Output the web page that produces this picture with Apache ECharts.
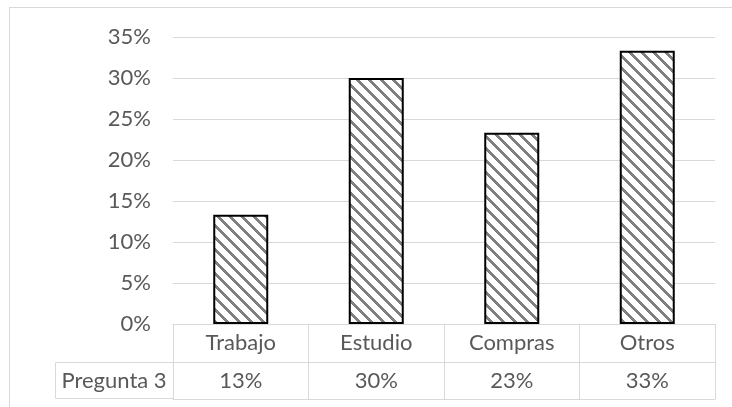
<!DOCTYPE html>
<html>
<head>
<meta charset="utf-8">
<script src="https://cdn.jsdelivr.net/npm/echarts@6/dist/echarts.min.js"></script>
<style>
  html, body { margin: 0; padding: 0; background: #fff; }
  #chart { width: 732px; height: 407px; }
</style>
</head>
<body>
<div id="chart"></div>
<script>
// data
const categories = ['Trabajo', 'Estudio', 'Compras', 'Otros'];
const pregunta3 = [0.1333, 0.30, 0.2333, 0.3333];
const seriesName = 'Pregunta 3';

const font = 'Lato, "Liberation Sans", sans-serif';
const fontSize = 22;
const lineGray = '#d9d9d9';
const textGray = '#595959';

// pixel hatch like excel's wide downward diagonal
function hatch(size, width) {
    const c = document.createElement('canvas');
    c.width = size;
    c.height = size;
    const ctx = c.getContext('2d');
    ctx.fillStyle = '#fff';
    ctx.fillRect(0, 0, size, size);
    ctx.fillStyle = '#808080';
    for (let y = 0; y < size; y++) {
        for (let x = 0; x < size; x++) {
            if ((((x - y) % size) + size) % size < width) ctx.fillRect(x, y, 1, 1);
        }
    }
    return c;
}

const chart = echarts.init(document.getElementById('chart'));

const pct = v => Math.round(v * 100) + '%';

const option = {
    animation: false,
    textStyle: { fontFamily: font },
    grid: { left: 173, right: 17, top: 37, bottom: 83 },
    xAxis: [
        {
            type: 'category',
            data: categories,
            position: 'bottom',
            axisLine: { show: true, lineStyle: { color: lineGray, width: 1 } },
            axisTick: { show: true, alignWithLabel: false, length: 75, lineStyle: { color: lineGray, width: 1 } },
            axisLabel: { color: textGray, fontSize: fontSize, fontFamily: font, margin: 8 },
            splitLine: { show: false }
        },
        {
            type: 'category',
            data: pregunta3.map(pct),
            position: 'bottom',
            offset: 38,
            axisLine: { show: true, lineStyle: { color: lineGray, width: 1 } },
            axisTick: { show: false },
            axisLabel: { color: textGray, fontSize: fontSize, fontFamily: font, margin: 8 }
        },
        {
            type: 'category',
            data: categories,
            position: 'bottom',
            offset: 75,
            axisLine: { show: true, lineStyle: { color: lineGray, width: 1 } },
            axisTick: { show: false },
            axisLabel: { show: false }
        }
    ],
    yAxis: {
        type: 'value',
        min: 0,
        max: 0.35,
        interval: 0.05,
        axisLine: { show: false },
        axisTick: { show: false },
        splitLine: { lineStyle: { color: lineGray, width: 1 } },
        axisLabel: {
            color: textGray,
            fontSize: fontSize,
            fontFamily: font,
            margin: 22,
            formatter: pct
        }
    },
    graphic: [
        { type: 'line', shape: { x1: 9, y1: 7.5, x2: 732, y2: 7.5 }, style: { stroke: lineGray, lineWidth: 1 }, silent: true },
        { type: 'line', shape: { x1: 9.5, y1: 7, x2: 9.5, y2: 407 }, style: { stroke: lineGray, lineWidth: 1 }, silent: true },
        { type: 'rect', shape: { x: 55.5, y: 362.5, width: 118, height: 36 }, style: { fill: 'none', stroke: lineGray, lineWidth: 1 }, silent: true },
        {
            type: 'text', silent: true,
            style: { text: seriesName, x: 114, y: 381, align: 'center', verticalAlign: 'middle', fill: textGray, fontSize: fontSize, fontFamily: font }
        }
    ],
    series: [
        {
            name: seriesName,
            type: 'bar',
            data: pregunta3,
            barWidth: 55,
            itemStyle: {
                color: { image: hatch(12, 4), repeat: 'repeat' },
                borderColor: '#000',
                borderWidth: 2
            }
        }
    ]
};

chart.setOption(option);
</script>
</body>
</html>
